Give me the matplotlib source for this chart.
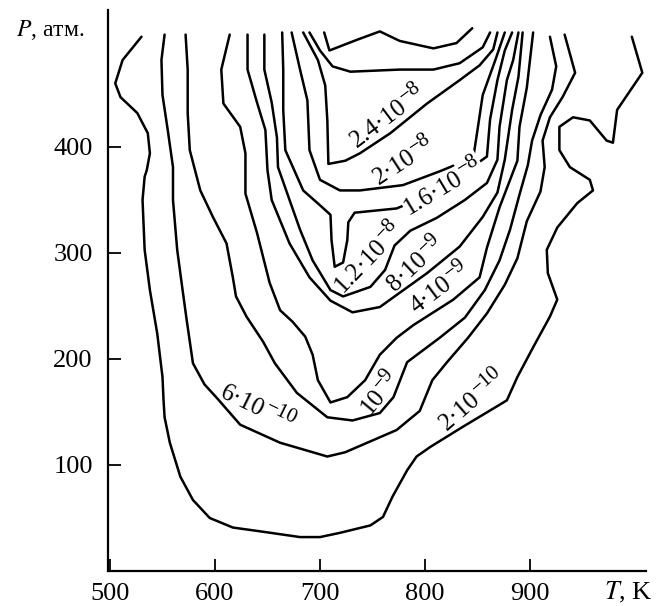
import math
import matplotlib
matplotlib.use("Agg")
import matplotlib.pyplot as plt

plt.rcParams['font.family'] = ['Liberation Serif', 'DejaVu Serif']
plt.rcParams['mathtext.fontset'] = 'stix'

# ---------------- data (T in K, P in atm) ----------------
T_2e10 = [530, 512, 505, 510, 526, 536, 538, 535, 533, 531, 533, 538, 545, 550, 551, 552, 557, 567, 579, 595,
          617, 646, 681, 700, 719, 748, 760, 769, 783, 792, 805, 836, 868, 878, 888, 903, 919, 926, 917, 916,
          926, 945, 960, 957, 938, 928, 928, 941, 957, 973, 979, 983, 1007, 997]
P_2e10 = [504, 482, 460, 447, 432, 413, 394, 378, 372, 350, 303, 265, 224, 183, 161, 145, 121, 89, 67, 50,
          41, 37, 32, 32, 36, 43, 51, 70, 95, 108, 117, 136, 155, 161, 183, 211, 240, 256, 281, 303,
          324, 347, 359, 369, 381, 397, 419, 428, 425, 406, 404, 435, 470, 504]

T_6e10 = [552, 549, 550, 555, 560, 560, 564, 569, 573, 579, 590, 602, 624, 662, 707, 724, 745, 773, 795, 807,
          821, 841, 859, 876, 888, 897, 910, 914, 912, 919, 931, 943, 933]
P_6e10 = [506, 482, 449, 416, 381, 350, 303, 266, 237, 196, 176, 163, 138, 121, 108, 112, 121, 133, 151, 180,
          197, 220, 243, 270, 295, 330, 358, 381, 406, 428, 447, 470, 506]

T_1e9 = [572, 574, 574, 576, 586, 598, 611, 617, 620, 630, 646, 657, 678, 707, 731, 757, 770, 783, 814, 838,
         857, 871, 881, 890, 898, 902, 910, 921, 925, 919]
P_1e9 = [506, 473, 432, 397, 359, 334, 309, 277, 259, 240, 216, 196, 168, 145, 142, 149, 164, 197, 220, 239,
         265, 293, 322, 355, 383, 406, 430, 454, 476, 504]

T_4e9 = [614, 606, 608, 624, 629, 629, 640, 652, 662, 674, 686, 693, 698, 710, 726, 743, 757, 773, 789, 827,
         852, 859, 871, 888, 890, 897, 903]
P_4e9 = [506, 473, 441, 419, 394, 356, 319, 272, 246, 235, 221, 204, 180, 159, 164, 180, 204, 220, 232, 256,
         277, 305, 343, 387, 419, 456, 508]

T_8e9 = [631, 631, 640, 648, 650, 654, 671, 690, 710, 731, 757, 802, 833, 855, 869, 876, 883, 889, 893]
P_8e9 = [506, 473, 442, 416, 378, 350, 309, 277, 255, 244, 249, 281, 306, 334, 357, 388, 435, 466, 508]

T_1p2e8 = [647, 647, 654, 659, 660, 671, 681, 693, 710, 722, 748, 762, 771, 786, 811, 838, 859, 869, 871, 878,
           884, 889]
P_1p2e8 = [506, 473, 442, 409, 381, 350, 322, 293, 265, 259, 268, 284, 307, 321, 333, 350, 366, 388, 419, 463,
           482, 508]

T_1p6e8 = [664, 665, 665, 667, 684, 700, 710, 711, 714, 722, 726, 727, 733, 773, 814, 859, 862, 869, 876, 883]
P_1p6e8 = [508, 473, 435, 397, 359, 345, 336, 312, 287, 291, 312, 329, 338, 342, 359, 391, 426, 463, 491, 508]

T_2e8 = [673, 681, 688, 690, 700, 719, 738, 779, 814, 846, 850, 855, 867, 876]
P_2e8 = [508, 473, 444, 397, 369, 359, 359, 364, 377, 390, 416, 449, 482, 508]

T_2p4e8 = [684, 698, 705, 707, 708, 724, 738, 767, 802, 833, 852, 865, 869]
P_2p4e8 = [508, 482, 458, 425, 384, 387, 394, 413, 441, 463, 477, 492, 508]

T_inner1 = [690, 700, 712, 729, 776, 808, 833, 855, 862]
P_inner1 = [508, 491, 476, 471, 473, 473, 479, 494, 508]

T_inner2 = [704, 709, 735, 757, 776, 808, 830, 845]
P_inner2 = [508, 491, 501, 509, 500, 493, 498, 512]

x_ticks = [500, 600, 700, 800, 900]
y_ticks = [100, 200, 300, 400]

contours = [(T_2e10, P_2e10), (T_6e10, P_6e10), (T_1e9, P_1e9), (T_4e9, P_4e9), (T_8e9, P_8e9),
            (T_1p2e8, P_1p2e8), (T_1p6e8, P_1p6e8), (T_2e8, P_2e8), (T_2p4e8, P_2p4e8),
            (T_inner1, P_inner1), (T_inner2, P_inner2)]

# level labels: mantissa part and exponent part
label_base = ["2·10", "6·10", "10", "4·10", "8·10", "1.2·10", "1.6·10", "2·10", "2.4·10"]
label_exp = ["\u221210", "\u221210", "\u22129", "\u22129", "\u22129", "\u22128", "\u22128", "\u22128", "\u22128"]

# ---------------- drawing ----------------
fig = plt.figure(figsize=(6.56, 6.06), dpi=100)
ax = fig.add_axes([108 / 656, 1 - 571 / 606, (646 - 108) / 656, (571 - 10) / 606])

for T, P in contours:
    ax.plot(T, P, color='black', lw=1.8, solid_joinstyle='round', solid_capstyle='round', zorder=2)

ax.set_xlim(498.1, 1010.5)
ax.set_ylim(0, 529.2)
ax.set_xticks(x_ticks)
ax.set_yticks(y_ticks)
ax.tick_params(axis='both', direction='in', length=9, width=1.3, labelsize=19)
ax.tick_params(axis='x', pad=9)
ax.tick_params(axis='y', pad=11)
for s in ['top', 'right']:
    ax.spines[s].set_visible(False)
for s in ['left', 'bottom']:
    ax.spines[s].set_linewidth(1.6)

fig.text(50 / 656, 1 - 30 / 606, r"$P$, атм.", ha='center', va='center', fontsize=17)
fig.text(628 / 656, 1 - 592 / 606, r"$T$, K", ha='center', va='center', fontsize=19)

# label placement (position in data units, rotation in degrees)
label_place = [((844, 162), 41), ((641, 155), -26), ((756, 169), 50), ((813, 268), 37),
               ((790, 291), 43), ((745, 297), 46), ((816, 364), 31), ((779, 388), 33),
               ((763, 430), 37)]

fig.canvas.draw()
renderer = fig.canvas.get_renderer()
base_size = 18
exp_size = 15
raise_pts = 6.0
center_drop = 6.0


def width_pts(s, size):
    t = fig.text(0, 0, s, fontsize=size)
    w = t.get_window_extent(renderer).width * 72.0 / fig.dpi
    t.remove()
    return w


for base, expo, ((tx, ty), rot) in zip(label_base, label_exp, label_place):
    wb = width_pts(base, base_size)
    we = width_pts(expo, exp_size)
    W = wb + we
    r = math.radians(rot)
    dx, dy = math.cos(r), math.sin(r)
    nx, ny = -math.sin(r), math.cos(r)
    bbox = None
    if base.startswith("1.6"):
        bbox = dict(facecolor='white', edgecolor='none', pad=0.8)
    ob = (-W / 2 * dx - center_drop * nx, -W / 2 * dy - center_drop * ny)
    oe = ((-W / 2 + wb + 0.5) * dx + (raise_pts - center_drop) * nx,
          (-W / 2 + wb + 0.5) * dy + (raise_pts - center_drop) * ny)
    ax.annotate(base, xy=(tx, ty), xytext=ob, textcoords='offset points', rotation=rot,
                rotation_mode='anchor', ha='left', va='baseline', fontsize=base_size, zorder=3, bbox=bbox)
    ax.annotate(expo, xy=(tx, ty), xytext=oe, textcoords='offset points', rotation=rot,
                rotation_mode='anchor', ha='left', va='baseline', fontsize=exp_size, zorder=3, bbox=bbox)

fig.savefig("out.png", dpi=100)
